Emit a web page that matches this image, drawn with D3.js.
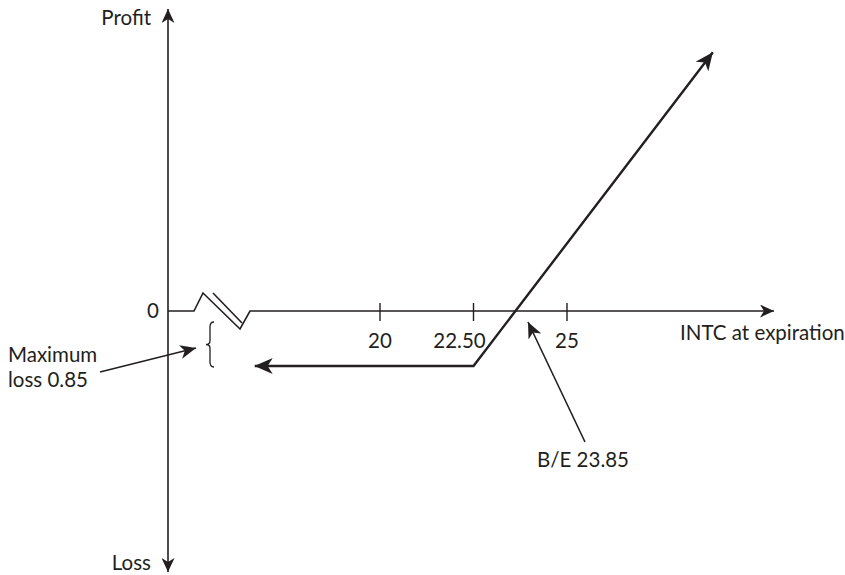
<!DOCTYPE html>
<html>
<head>
<meta charset="utf-8">
<script src="https://cdn.jsdelivr.net/npm/d3@7"></script>
<style>
  body { margin: 0; background: #fff; }
  text { font-family: Lato, "Open Sans", sans-serif; fill: #231f20; }
</style>
</head>
<body>
<svg id="chart" width="845" height="575"></svg>
<script>

// price ticks on the x axis
let tickValues = [20, 22.5, 25];
let tickLabels = ['20', '22.50', '25'];

// payoff of the long call at expiration (schematic)
let payoffX = [16.65, 22.5, 28.9];
let payoffY = [-0.85, -0.85, 4.0];

let maxLoss = -0.85;
let breakEven = 23.85;

let svg = d3.select('#chart');
const ink = '#231f20';
const fs = 20.5;

let x = d3.scaleLinear().domain([20, 25]).range([380, 567]);
let y = d3.scaleLinear().domain([0, maxLoss]).range([311, 366]);

const x0 = 168, y0 = y(0);

// arrow markers
let defs = svg.append('defs');
function marker(id, len, half, flip) {
    let s = flip ? -1 : 1;
    defs.append('marker')
        .attr('id', id)
        .attr('viewBox', flip ? `0 ${-half} ${len} ${half * 2}` : `${-len} ${-half} ${len} ${half * 2}`)
        .attr('refX', 0).attr('refY', 0)
        .attr('markerWidth', len).attr('markerHeight', half * 2)
        .attr('markerUnits', 'userSpaceOnUse')
        .attr('orient', 'auto')
        .append('path')
        .attr('d', `M0,0 L${-len * s},${-half} L${-len * 0.72 * s},0 L${-len * s},${half} Z`)
        .attr('fill', ink);
}
marker('axisHead', 14, 6.5);
marker('bigHead', 18, 8);
marker('bigHeadRev', 18, 8, true);
marker('noteHead', 16, 7);

// y axis
svg.append('line')
    .attr('x1', x0).attr('y1', y0).attr('x2', x0).attr('y2', 9)
    .attr('stroke', ink).attr('stroke-width', 1.6)
    .attr('marker-end', 'url(#axisHead)');
svg.append('line')
    .attr('x1', x0).attr('y1', y0).attr('x2', x0).attr('y2', 572)
    .attr('stroke', ink).attr('stroke-width', 1.6)
    .attr('marker-end', 'url(#axisHead)');

// x axis with a break near the origin
svg.append('polyline')
    .attr('points', [[x0, y0], [x0 + 26, y0], [x0 + 35, y0 - 18], [x0 + 72, y0 + 18], [x0 + 82, y0], [774, y0]].join(' '))
    .attr('fill', 'none').attr('stroke', ink).attr('stroke-width', 1.6)
    .attr('marker-end', 'url(#axisHead)');
svg.append('line')
    .attr('x1', x0 + 45).attr('y1', y0 - 18).attr('x2', x0 + 74).attr('y2', y0 + 12)
    .attr('stroke', ink).attr('stroke-width', 1.6);

// ticks
svg.selectAll('.tick').data(tickValues).enter().append('line')
    .attr('class', 'tick')
    .attr('x1', (d) => x(d)).attr('x2', (d) => x(d))
    .attr('y1', y0 - 8).attr('y2', y0 + 10)
    .attr('stroke', ink).attr('stroke-width', 1.4);

svg.selectAll('.tlabel').data(tickValues).enter().append('text')
    .attr('class', 'tlabel')
    .attr('x', (d, i) => x(d) - (i == 1 ? 14 : 0))
    .attr('y', y0 + 37)
    .attr('text-anchor', 'middle')
    .attr('font-size', fs)
    .text((d, i) => tickLabels[i]);

// axis labels
svg.append('text').attr('x', 151).attr('y', 25).attr('text-anchor', 'end').attr('font-size', fs).text('Profit');
svg.append('text').attr('x', 151).attr('y', 570).attr('text-anchor', 'end').attr('font-size', fs).text('Loss');
svg.append('text').attr('x', 159).attr('y', y0 + 7).attr('text-anchor', 'end').attr('font-size', fs).text('0');
svg.append('text').attr('x', 680).attr('y', y0 + 29).attr('font-size', fs).text('INTC at expiration');

// payoff line, arrows on both ends
let pts = payoffX.map((d, i) => [x(d), y(payoffY[i])]);
svg.append('path')
    .attr('d', d3.line()(pts))
    .attr('fill', 'none').attr('stroke', ink).attr('stroke-width', 2.4)
    .attr('marker-start', 'url(#bigHeadRev)')
    .attr('marker-end', 'url(#bigHead)');

// brace marking the maximum loss
let bx = 210, by1 = y(0) + 11, by2 = y(maxLoss) + 1, bm = (by1 + by2) / 2;
svg.append('path')
    .attr('d', `M${bx + 4},${by1} Q${bx},${by1} ${bx},${by1 + 5} L${bx},${bm - 4} Q${bx},${bm} ${bx - 4},${bm} Q${bx},${bm} ${bx},${bm + 4} L${bx},${by2 - 5} Q${bx},${by2} ${bx + 4},${by2}`)
    .attr('fill', 'none').attr('stroke', ink).attr('stroke-width', 1.3);

svg.append('line')
    .attr('x1', 100).attr('y1', 372).attr('x2', 196).attr('y2', 348)
    .attr('stroke', ink).attr('stroke-width', 1.6)
    .attr('marker-end', 'url(#noteHead)');
svg.append('text').attr('x', 8).attr('y', 362).attr('font-size', fs).text('Maximum');
svg.append('text').attr('x', 8).attr('y', 387).attr('font-size', fs).text('loss ' + (-maxLoss).toFixed(2));

// break-even note
svg.append('line')
    .attr('x1', 585).attr('y1', 442).attr('x2', 528).attr('y2', 322)
    .attr('stroke', ink).attr('stroke-width', 1.6)
    .attr('marker-end', 'url(#noteHead)');
svg.append('text').attr('x', 537).attr('y', 467).attr('font-size', fs).text('B/E ' + breakEven.toFixed(2));

</script>
</body>
</html>
